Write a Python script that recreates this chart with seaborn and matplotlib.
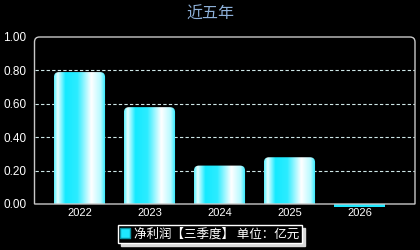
"""
Bar chart: net profit (Q3) over five years, dark theme with gradient bars.
"""

import numpy as np
import pandas as pd
import seaborn as sns
import matplotlib.pyplot as plt
from matplotlib.colors import LinearSegmentedColormap
from matplotlib.patches import FancyBboxPatch, Patch, PathPatch
from matplotlib.path import Path

years = ["2022", "2023", "2024", "2025", "2026"]
profit = [0.79, 0.58, 0.23, 0.28, -0.02]
y_ticks = [0.0, 0.2, 0.4, 0.6, 0.8, 1.0]
title = "近五年"
legend_label = "净利润【三季度】 单位：亿元"

sns.set_theme(style="dark")
plt.rcParams["font.family"] = ["Liberation Sans", "Noto Sans CJK SC", "DejaVu Sans"]

CYAN = "#1ee8ff"
grad_cmap = LinearSegmentedColormap.from_list(
    "bar_grad",
    [(0.0, "#5ff2ff"), (0.07, "#e6ffff"), (0.22, "#14eaff"), (0.45, "#2cecff"),
     (0.72, "#ffffff"), (0.9, "#b8faff"), (1.0, "#22e8ff")],
)

df = pd.DataFrame({"year": years, "profit": profit})

fig = plt.figure(figsize=(4.2, 2.5), dpi=100, facecolor="black")
ax = fig.add_axes([34.5 / 420, 46 / 250, 380.5 / 420, 167 / 250])
ax.set_facecolor("black")

sns.barplot(data=df, x="year", y="profit", order=years, color=CYAN, width=0.73,
            saturation=1, ax=ax, zorder=2)

xlim = (-0.643, 4.793)
ax.set_xlim(*xlim)
ax.set_ylim(0, 1.0)

# rounded, gradient-filled bars
px_x = (xlim[1] - xlim[0]) / 380.5
px_y = 1.0 / 167
for bar in list(ax.patches):
    x0, w, h = bar.get_x(), bar.get_width(), bar.get_height()
    if h <= 0:
        bar.set_clip_on(False)
        bar.set_edgecolor("none")
        bar.set_facecolor(CYAN)
        continue
    bar.set_visible(False)
    r = 5 * px_x
    shape = FancyBboxPatch((x0, -0.05), w, h + 0.05,
                           boxstyle=f"round,pad=0,rounding_size={r}",
                           mutation_aspect=px_y / px_x,
                           facecolor="none", edgecolor="none", zorder=2)
    ax.add_patch(shape)
    img = ax.imshow(np.linspace(0, 1, 200)[np.newaxis, :], cmap=grad_cmap,
                    extent=[x0, x0 + w, 0, h], aspect="auto", zorder=2)
    img.set_clip_path(shape)

ax.set_xlim(*xlim)
ax.set_ylim(0, 1.0)

# grid
ax.set_yticks(y_ticks)
ax.set_yticklabels([f"{v:.2f}" for v in y_ticks])
ax.yaxis.grid(True, linestyle=(0, (3, 2)), color="#cfe8e8", linewidth=0.8)
ax.xaxis.grid(False)
ax.set_axisbelow(True)
for gl, v in zip(ax.get_ygridlines(), y_ticks):
    if v in (0.0, 1.0):
        gl.set_visible(False)

# frame with rounded top corners
for s in ax.spines.values():
    s.set_visible(False)
rx, ry = 5 / 380.5, 5 / 167
verts = [(0, 0), (0, 1 - ry), (0, 1), (rx, 1), (1 - rx, 1), (1, 1), (1, 1 - ry), (1, 0), (0, 0)]
codes = [Path.MOVETO, Path.LINETO, Path.CURVE3, Path.CURVE3, Path.LINETO,
         Path.CURVE3, Path.CURVE3, Path.LINETO, Path.CLOSEPOLY]
frame = PathPatch(Path(verts, codes), transform=ax.transAxes, facecolor="none",
                  edgecolor="#c8c8c8", linewidth=1.0, clip_on=False, zorder=3)
ax.add_patch(frame)

ax.tick_params(axis="both", length=0, colors="white")
ax.tick_params(axis="y", labelsize=8.5, pad=6)
ax.tick_params(axis="x", labelsize=8, pad=3)
ax.set_xlabel("")
ax.set_ylabel("")

fig.text(0.5, 1 - 14 / 250, title, ha="center", va="center", color="#8db0d8",
         fontsize=11.5, family=["Noto Sans CJK SC", "DejaVu Sans"])

leg = ax.legend(handles=[Patch(facecolor=CYAN, edgecolor="#0a90a0", label=legend_label)],
                loc="upper center", bbox_to_anchor=(0.461, -0.125), frameon=True,
                fancybox=False, facecolor="black", edgecolor="white",
                shadow={"color": "#d8d8d8", "ox": 2, "oy": -2, "alpha": 1},
                prop={"family": ["Noto Sans CJK SC", "DejaVu Sans"], "size": 9},
                labelcolor="white", handlelength=0.8, handleheight=0.8,
                handletextpad=0.3, borderpad=0.2, borderaxespad=0)
leg.get_frame().set_linewidth(1.0)

fig.savefig("out.png", dpi=100, facecolor="black")
